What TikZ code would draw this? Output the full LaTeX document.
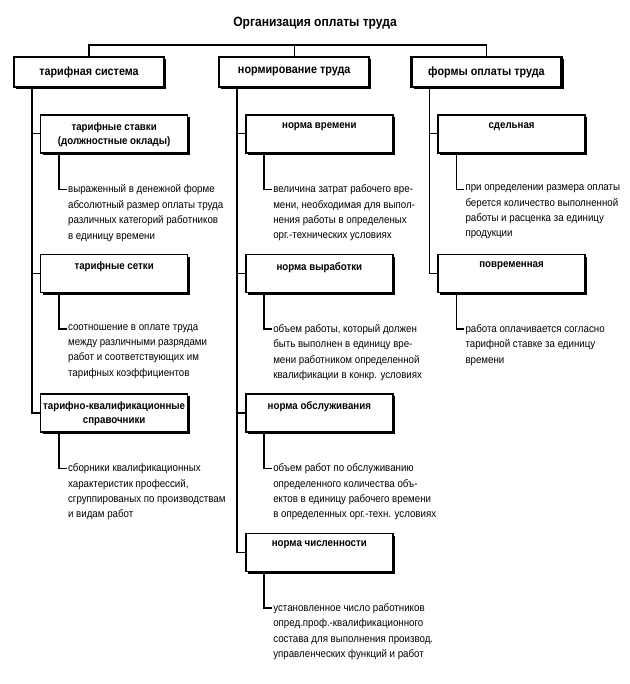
\documentclass[tikz,border=0pt]{standalone}
\usepackage{fontspec}
\setmainfont{Liberation Sans}[FakeStretch=0.9]
\usetikzlibrary{positioning,shadows}

\begin{document}
\begin{tikzpicture}[x=1pt, y=1pt, node distance=100pt,
	head/.style={draw, fill=white, line width=2.2pt, minimum width=150pt, minimum height=30pt, font=\bfseries\fontsize{12}{14}\selectfont, drop shadow={shadow xshift=2.2pt, shadow yshift=-2.5pt, fill=black, opacity=1}},
	sub/.style={draw, fill=white, line width=1.5pt, minimum width=147pt, minimum height=38pt, drop shadow={shadow xshift=2pt, shadow yshift=-2.5pt, fill=black, opacity=1}},
	boxtext/.style={anchor=north, yshift=-5pt, align=center, font=\bfseries\fontsize{10.8}{14.5}\selectfont},
	desc/.style={align=left, inner sep=1pt, font=\fontsize{10.8}{15.4}\selectfont},
	line/.style={line width=1.3pt}]
	\useasboundingbox (0,0) rectangle (629,-684);
	\node[font=\bfseries\fontsize{13.4}{16}\selectfont] (org) at (315,-23) {Организация оплаты труда};
	\coordinate (bus) at (315,-45);
	\node[head] (ts) at (89,-72) {тарифная система};
	\node[head, right=53pt of ts] (nt) {нормирование труда};
	\node[head, right=40pt of nt] (fo) {формы оплаты труда};
	\draw[line] (ts.north) |- (bus) -| (fo.north);
	\draw[line] (nt.north) -- (nt.north |- bus);

	\node[sub, below right=26pt and 27pt of ts.south west, label={[boxtext]north:тарифные ставки\\(должностные оклады)}] (st) {};
	\node[desc, below right=30pt and 27pt of st.south west] (st-d) {выраженный в денежной форме\\абсолютный размер оплаты труда\\различных категорий работников\\в единицу времени};
	\node[sub, below=of st, label={[boxtext]north:тарифные сетки}] (sk) {};
	\node[desc, below right=30pt and 27pt of sk.south west] (sk-d) {соотношение в оплате труда\\между различными разрядами\\работ и соответствующих им\\тарифных коэффициентов};
	\node[sub, below=of sk, label={[boxtext]north:тарифно-квалификационные\\справочники}] (kv) {};
	\node[desc, below right=30pt and 27pt of kv.south west] (kv-d) {сборники квалификационных\\характеристик профессий,\\сгруппированых по производствам\\и видам работ};

	\node[sub, below right=26pt and 27pt of nt.south west, label={[boxtext]north:норма времени}] (nv) {};
	\node[desc, below right=30pt and 27pt of nv.south west] (nv-d) {величина затрат рабочего вре-\\мени, необходимая для выпол-\\нения работы в определеных\\орг.-технических условиях};
	\node[sub, below=of nv, label={[boxtext]north:норма выработки}] (nvy) {};
	\node[desc, below right=30pt and 27pt of nvy.south west] (nvy-d) {объем работы, который должен\\быть выполнен в единицу вре-\\мени работником определенной\\квалификации в конкр. условиях};
	\node[sub, below=of nvy, label={[boxtext]north:норма обслуживания}] (no) {};
	\node[desc, below right=30pt and 27pt of no.south west] (no-d) {объем работ по обслуживанию\\определенного количества объ-\\ектов в единицу рабочего времени\\в определенных орг.-техн. условиях};
	\node[sub, below=of no, label={[boxtext]north:норма численности}] (nch) {};
	\node[desc, below right=30pt and 27pt of nch.south west] (nch-d) {установленное число работников\\опред.проф.-квалификационного\\состава для выполнения производ.\\управленческих функций и работ};

	\node[sub, below right=26pt and 27pt of fo.south west, label={[boxtext]north:сдельная}] (sd) {};
	\node[desc, below right=30pt and 27pt of sd.south west] (sd-d) {при определении размера оплаты\\берется количество выполненной\\работы и расценка за единицу\\продукции};
	\node[sub, below=of sd, label={[boxtext]north:повременная}] (pv) {};
	\node[desc, below right=30pt and 27pt of pv.south west] (pv-d) {работа оплачивается согласно\\тарифной ставке за единицу\\времени};

	\coordinate (ts-t) at ([xshift=19pt]ts.south west);
	\coordinate (nt-t) at ([xshift=19pt]nt.south west);
	\coordinate (fo-t) at ([xshift=19pt]fo.south west);
	\draw[line] (ts-t) |- (kv.west);
	\draw[line] (st.west) -- (st.west -| ts-t);
	\draw[line] (sk.west) -- (sk.west -| ts-t);
	\draw[line] (nt-t) |- (nch.west);
	\draw[line] (nv.west) -- (nv.west -| nt-t);
	\draw[line] (nvy.west) -- (nvy.west -| nt-t);
	\draw[line] (no.west) -- (no.west -| nt-t);
	\draw[line] (fo-t) |- (pv.west);
	\draw[line] (sd.west) -- (sd.west -| fo-t);

	\draw[line] ([xshift=19pt]st.south west) |- ([yshift=-6pt]st-d.north west);
	\draw[line] ([xshift=19pt]sk.south west) |- ([yshift=-6pt]sk-d.north west);
	\draw[line] ([xshift=19pt]kv.south west) |- ([yshift=-6pt]kv-d.north west);
	\draw[line] ([xshift=19pt]nv.south west) |- ([yshift=-6pt]nv-d.north west);
	\draw[line] ([xshift=19pt]nvy.south west) |- ([yshift=-6pt]nvy-d.north west);
	\draw[line] ([xshift=19pt]no.south west) |- ([yshift=-6pt]no-d.north west);
	\draw[line] ([xshift=19pt]nch.south west) |- ([yshift=-6pt]nch-d.north west);
	\draw[line] ([xshift=19pt]sd.south west) |- ([yshift=-6pt]sd-d.north west);
	\draw[line] ([xshift=19pt]pv.south west) |- ([yshift=-6pt]pv-d.north west);
\end{tikzpicture}
\end{document}
